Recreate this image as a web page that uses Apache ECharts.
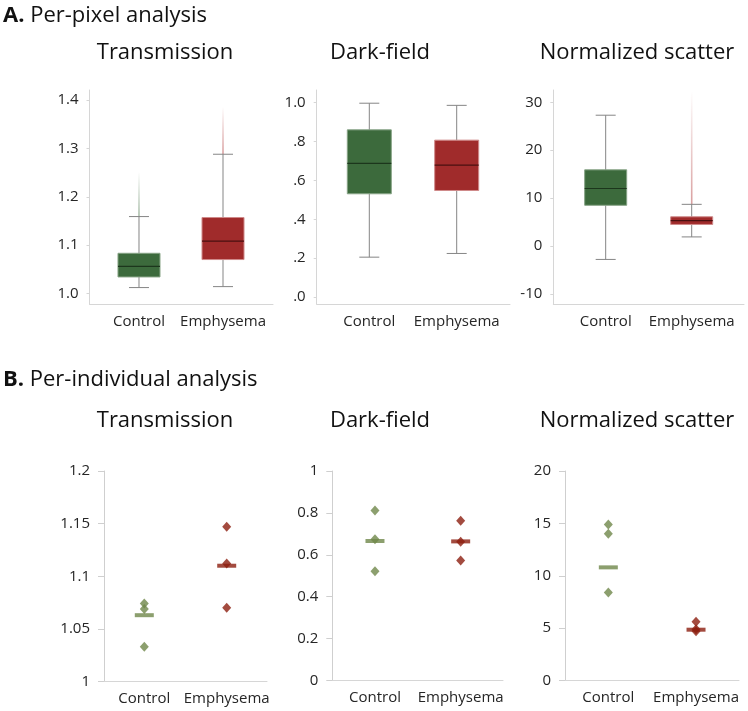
<!DOCTYPE html>
<html><head><meta charset="utf-8">
<script src="https://cdn.jsdelivr.net/npm/echarts@6/dist/echarts.min.js"></script>
<style>html,body{margin:0;padding:0;background:#fff}#c{width:748px;height:711px}</style>
</head><body><div id="c"></div>
<script>
// ---------- data ----------
const categories = ['Control', 'Emphysema'];
const panelTitles = ['Transmission', 'Dark-field', 'Normalized scatter'];
const sectionTitles = ['Per-pixel analysis', 'Per-individual analysis'];

// Per-pixel box statistics: [min, Q1, median, Q3, max]
const pixTransControl = [1.012, 1.034, 1.056, 1.083, 1.159];
const pixTransEmph    = [1.014, 1.070, 1.108, 1.157, 1.288];
const pixDarkControl  = [0.205, 0.531, 0.688, 0.860, 0.997];
const pixDarkEmph     = [0.224, 0.548, 0.678, 0.807, 0.986];
const pixScatControl  = [-2.8, 8.5, 12.0, 15.9, 27.3];
const pixScatEmph     = [1.9, 4.5, 5.3, 6.1, 8.7];
// faint outlier tails above the upper whisker: [category index, from, to]
const pixTransTails = [[0, 1.159, 1.25], [1, 1.288, 1.385]];
const pixDarkTails  = [];
const pixScatTails  = [[1, 8.7, 32.2]];

// Per-pixel y tick labels
const pixTransTicks = [1.0, 1.1, 1.2, 1.3, 1.4];
const pixDarkTicks  = [0, 0.2, 0.4, 0.6, 0.8, 1.0];
const pixScatTicks  = [-10, 0, 10, 20, 30];

// Per-individual values
const indTransControl = [1.074, 1.069, 1.033];
const indTransEmph    = [1.147, 1.112, 1.070];
const indTransMean    = [1.063, 1.110];
const indDarkControl  = [0.812, 0.674, 0.521];
const indDarkEmph     = [0.763, 0.662, 0.573];
const indDarkMean     = [0.666, 0.664];
const indScatControl  = [14.9, 14.0, 8.4];
const indScatEmph     = [5.6, 4.9, 4.7];
const indScatMean     = [10.8, 4.85];

// ---------- styling ----------
const FONT = "'Open Sans', sans-serif";
const boxFill = ['#3c6a3c', '#a02b2b'];
const boxEdge = ['#86a385', '#cf8a8a'];
const boxMed  = ['#1c361c', '#4a1010'];
const tailCol = ['60,106,60', '170,40,40'];
const dotCol  = ['#6f874a', '#8c1e0f'];
const axisCol = '#d6d6d6';
const labelCol = '#262626';

const topPanels = [
  {grid: {left: 89.5, top: 90, width: 183.5, height: 214}, xr: [-0.589, 1.595], yr: [0.978, 1.421],
   ticks: pixTransTicks, fmt: v => v.toFixed(1), boxes: [pixTransControl, pixTransEmph], tails: pixTransTails, bw: 42},
  {grid: {left: 316.7, top: 90, width: 193.3, height: 214}, xr: [-0.602, 1.610], yr: [-0.036, 1.065],
   ticks: pixDarkTicks, fmt: v => v.toFixed(1).replace(/^0/, ''), boxes: [pixDarkControl, pixDarkEmph], tails: pixDarkTails, bw: 44},
  {grid: {left: 553.3, top: 90, width: 190.7, height: 214}, xr: [-0.609, 1.608], yr: [-12.1, 32.56],
   ticks: pixScatTicks, fmt: v => String(v), boxes: [pixScatControl, pixScatEmph], tails: pixScatTails, bw: 42}
];
const botPanels = [
  {grid: {left: 104, top: 471, width: 163, height: 210.5}, xr: [-0.489, 1.489], yr: [1, 1.2], interval: 0.05,
   pts: [indTransControl, indTransEmph], mean: indTransMean},
  {grid: {left: 332.3, top: 471, width: 170.7, height: 209.5}, xr: [-0.498, 1.494], yr: [0, 1], interval: 0.2,
   pts: [indDarkControl, indDarkEmph], mean: indDarkMean},
  {grid: {left: 565, top: 471, width: 174, height: 209.5}, xr: [-0.494, 1.49], yr: [0, 20], interval: 5,
   pts: [indScatControl, indScatEmph], mean: indScatMean}
];

const grids = [], xAxes = [], yAxes = [], series = [];

function xAxisFor(i, p) {
  return {
    type: 'value', gridIndex: i, min: p.xr[0], max: p.xr[1],
    axisLine: {show: true, onZero: false, lineStyle: {color: axisCol, width: 1}},
    axisTick: {show: false}, splitLine: {show: false},
    axisLabel: {customValues: [0, 1], formatter: v => categories[Math.round(v)],
      fontFamily: FONT, fontSize: 15, color: labelCol, margin: 10}
  };
}

function boxRender(params, api) {
  const x = api.value(0);
  const bw = api.value(6) / 2, cw = 10;
  const k = params.dataIndex;
  const p = [1, 2, 3, 4, 5].map(i => api.coord([x, api.value(i)]));
  const cx = p[0][0];
  const wl = {stroke: '#858585', lineWidth: 1};
  return {type: 'group', children: [
    {type: 'line', shape: {x1: cx, y1: p[0][1], x2: cx, y2: p[1][1]}, style: wl},
    {type: 'line', shape: {x1: cx, y1: p[3][1], x2: cx, y2: p[4][1]}, style: wl},
    {type: 'line', shape: {x1: cx - cw, y1: p[0][1], x2: cx + cw, y2: p[0][1]}, style: wl},
    {type: 'line', shape: {x1: cx - cw, y1: p[4][1], x2: cx + cw, y2: p[4][1]}, style: wl},
    {type: 'rect', shape: {x: cx - bw, y: p[3][1], width: 2 * bw, height: p[1][1] - p[3][1]},
      style: {fill: boxFill[k], stroke: boxEdge[k], lineWidth: 1}},
    {type: 'line', shape: {x1: cx - bw, y1: p[2][1], x2: cx + bw, y2: p[2][1]},
      style: {stroke: boxMed[k], lineWidth: 1.2}}
  ]};
}

function tailRender(params, api) {
  const k = api.value(0);
  const a = api.coord([k, api.value(1)]);
  const b = api.coord([k, api.value(2)]);
  const c = tailCol[k];
  return {type: 'line', shape: {x1: a[0], y1: a[1], x2: b[0], y2: b[1]},
    style: {lineWidth: 1.6, stroke: new echarts.graphic.LinearGradient(0, 1, 0, 0, [
      {offset: 0, color: 'rgba(' + c + ',0.45)'}, {offset: 1, color: 'rgba(' + c + ',0)'}])}};
}

topPanels.forEach((p, i) => {
  grids.push(p.grid);
  xAxes.push(xAxisFor(i, p));
  yAxes.push({
    type: 'value', gridIndex: i, min: p.yr[0], max: p.yr[1],
    axisLine: {show: true, onZero: false, lineStyle: {color: axisCol}},
    axisTick: {show: true, customValues: p.ticks, length: 3, lineStyle: {color: axisCol}},
    splitLine: {show: false},
    axisLabel: {customValues: p.ticks, formatter: p.fmt, fontFamily: FONT, fontSize: 15, color: labelCol, margin: 11}
  });
  series.push({
    type: 'custom', xAxisIndex: i, yAxisIndex: i, renderItem: tailRender,
    data: p.tails, encode: {x: 0, y: [1, 2]}, z: 1, silent: true
  });
  series.push({
    type: 'custom', xAxisIndex: i, yAxisIndex: i, renderItem: boxRender,
    data: p.boxes.map((b, k) => [k].concat(b).concat([p.bw])),
    encode: {x: 0, y: [1, 2, 3, 4, 5]}, z: 2, silent: true
  });
});

botPanels.forEach((p, j) => {
  const i = j + 3;
  grids.push(p.grid);
  xAxes.push(xAxisFor(i, p));
  yAxes.push({
    type: 'value', gridIndex: i, min: p.yr[0], max: p.yr[1], interval: p.interval,
    axisLine: {show: true, onZero: false, lineStyle: {color: '#cfcfcf'}},
    axisTick: {show: true, length: 6, lineStyle: {color: '#cfcfcf'}},
    splitLine: {show: false},
    axisLabel: {fontFamily: FONT, fontSize: 15, color: labelCol, margin: 14}
  });
  p.pts.forEach((vals, k) => {
    series.push({
      type: 'scatter', xAxisIndex: i, yAxisIndex: i, symbol: 'diamond', symbolSize: [9, 10],
      itemStyle: {color: dotCol[k]}, data: vals.map(v => [k, v]), z: 2, silent: true
    });
  });
  series.push({
    type: 'scatter', xAxisIndex: i, yAxisIndex: i, symbol: 'rect', symbolSize: [19, 4],
    data: p.mean.map((v, k) => ({value: [k, v], itemStyle: {color: dotCol[k]}})), z: 3, silent: true
  });
});

// titles
const graphics = [];
function txt(x, y, text, size, align, rich) {
  const style = {text: text, fontFamily: FONT, fontSize: size, fill: '#111',
    textAlign: align, textVerticalAlign: 'middle', align: align, verticalAlign: 'middle'};
  if (rich) style.rich = rich;
  graphics.push({type: 'text', x: x, y: y, style: style, silent: true});
}
const richB = {b: {fontWeight: 'bold', fontSize: 22, fontFamily: FONT, fill: '#111', color: '#111'}};
txt(3, 16, '{b|A.} ' + sectionTitles[0], 22, 'left', richB);
txt(3, 380, '{b|B.} ' + sectionTitles[1], 22, 'left', richB);
const titleX = [165, 380, 637];
panelTitles.forEach((t, k) => {
  txt(titleX[k], 53, t, 22, 'center');
  txt(titleX[k], 421, t, 22, 'center');
});

const chart = echarts.init(document.getElementById('c'), null, {renderer: 'canvas'});
chart.setOption({
  animation: false,
  backgroundColor: '#fff',
  grid: grids, xAxis: xAxes, yAxis: yAxes, series: series,
  graphic: {elements: graphics}
});
</script></body></html>
